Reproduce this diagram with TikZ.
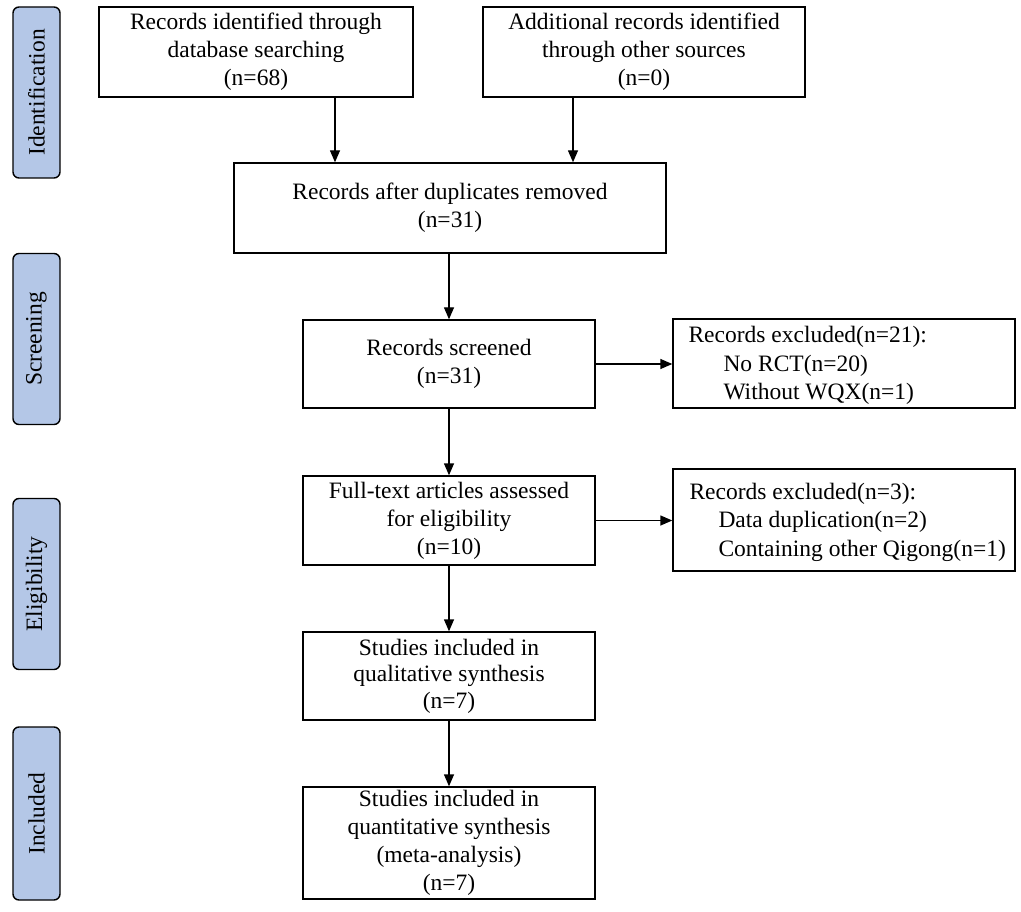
\documentclass[tikz,border=0pt]{standalone}
\usepackage{fontspec}
\setmainfont{Liberation Serif}
\usetikzlibrary{arrows.meta,calc}
\definecolor{sidefill}{RGB}{180,199,231}
\begin{document}
\begin{tikzpicture}[x=1pt,y=-1pt,
  box/.style={draw=black,line width=1.4pt,fill=white,align=center,inner sep=0pt,
    font=\fontsize{23.5}{28}\selectfont},
  exbox/.style={draw=black,line width=1.4pt,fill=white,inner sep=0pt,minimum width=342pt},
  extext/.style={align=left,inner sep=0pt,anchor=west,font=\fontsize{23.5}{28.5}\selectfont},
  sidebox/.style={draw=black,line width=1.4pt,fill=sidefill,rounded corners=6pt,rotate=90,
    minimum width=171pt,minimum height=47pt,inner sep=0pt,font=\fontsize{23.5}{27}\selectfont},
  arr/.style={line width=1.4pt,-{Triangle[length=12pt,width=10pt]}}]
\useasboundingbox (0,0) rectangle (1021,912);
% side labels
\node[sidebox] (s1) at (36.5,92.5) {Identification};
\node[sidebox] (s2) at (36.5,339) {Screening};
\node[sidebox] (s3) at (36.5,584) {Eligibility};
\node[sidebox,minimum width=173pt] (s4) at (36.5,813.5) {Included};
% main boxes
\node[box,minimum width=314pt,minimum height=90pt] (b1) at (256,52)
  {Records identified through\\database searching\\(n=68)};
\node[box,minimum width=322pt,minimum height=90pt] (b2) at (644,52)
  {Additional records identified\\through other sources\\(n=0)};
\node[box,minimum width=432pt,minimum height=90pt] (b3) at (450,208)
  {Records after duplicates removed\\(n=31)};
\node[box,minimum width=292pt,minimum height=88pt] (b4) at (449,364)
  {Records screened\\(n=31)};
\node[box,minimum width=292pt,minimum height=89pt] (b6) at (449,520.5)
  {Full-text articles assessed\\for eligibility\\(n=10)};
\node[box,minimum width=292pt,minimum height=88pt,font=\fontsize{23.5}{26.5}\selectfont] (b8) at (449,676)
  {Studies included in\\qualitative synthesis\\(n=7)};
\node[box,minimum width=292pt,minimum height=112pt,font=\fontsize{23.5}{28}\selectfont] (b9) at (449,843)
  {Studies included in\\quantitative synthesis\\(meta-analysis)\\(n=7)};
% excluded boxes
\node[exbox,minimum height=89pt] (e1) at (844,363.5) {};
\node[extext] (t1) at ($(e1.west)+(16,2)$)
  {Records excluded(n=21):\\\hspace*{35pt}No RCT(n=20)\\\hspace*{35pt}Without WQX(n=1)};
\node[exbox,minimum height=102pt] (e2) at (844,520) {};
\node[extext] (t2) at ($(e2.west)+(17,2)$)
  {Records excluded(n=3):\\\hspace*{29pt}Data duplication(n=2)\\\hspace*{29pt}Containing other Qigong(n=1)};
% arrows
\coordinate (c1) at (335,0);
\coordinate (c2) at (573,0);
\draw[arr] (b1.south -| c1) -- (b3.north -| c1);
\draw[arr] (b2.south -| c2) -- (b3.north -| c2);
\draw[arr] (b3.south -| b4.north) -- (b4.north);
\draw[arr] (b4.south) -- (b6.north);
\draw[arr] (b6.south) -- (b8.north);
\draw[arr] (b8.south) -- (b9.north);
\draw[arr] (b4.east) -- (b4.east -| e1.west);
\draw[arr] (b6.east) -- (b6.east -| e2.west);
\end{tikzpicture}
\end{document}
